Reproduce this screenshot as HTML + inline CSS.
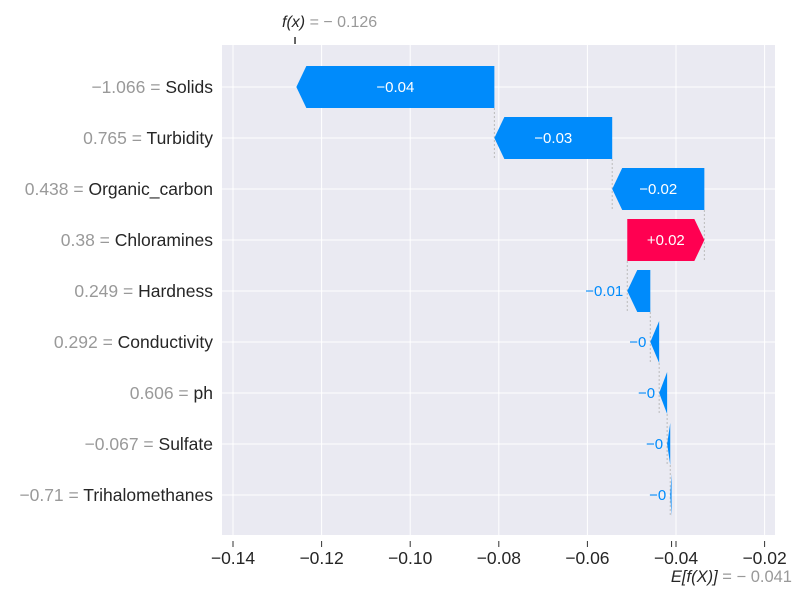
<!DOCTYPE html>
<html><head><meta charset="utf-8">
<style>
body{margin:0;background:#fff;}
svg{display:block;font-family:"Liberation Sans","DejaVu Sans",sans-serif;}
</style></head>
<body>
<svg id="chart" width="800" height="600">
  <rect x="222" y="45" width="553" height="490" fill="#eaeaf2"/>
  <g id="grid"></g>
  <g id="connectors"></g>
  <g id="bars"></g>
  <g id="ylabels"></g>
  <g id="xaxis"></g>
</svg>
<script>
const features = ["Solids","Turbidity","Organic_carbon","Chloramines","Hardness","Conductivity","ph","Sulfate","Trihalomethanes"];
const featureValues = ["\u22121.066","0.765","0.438","0.38","0.249","0.292","0.606","\u22120.067","\u22120.71"];
const shapValues = [-0.0447,-0.0266,-0.0208,0.0174,-0.0052,-0.002,-0.0018,-0.0007,-0.0003];
const barLabels = ["\u22120.04","\u22120.03","\u22120.02","+0.02","\u22120.01","\u22120","\u22120","\u22120","\u22120"];
const xTicks = [-0.14,-0.12,-0.10,-0.08,-0.06,-0.04,-0.02];
const xTickLabels = ["\u22120.14","\u22120.12","\u22120.10","\u22120.08","\u22120.06","\u22120.04","\u22120.02"];
const baseValue = -0.041;
const fxValue = -0.126;

const NS="http://www.w3.org/2000/svg";
const X = v => 676 + (v + 0.04) * 4430;
const rowY = i => 87 + i * 51;
const H = 42;
function mk(tag, attrs, parent){const e=document.createElementNS(NS,tag);for(const k in attrs)e.setAttribute(k,attrs[k]);parent.appendChild(e);return e;}
const grid=document.getElementById('grid'), bars=document.getElementById('bars'), conn=document.getElementById('connectors'), yl=document.getElementById('ylabels'), xa=document.getElementById('xaxis');

xTicks.forEach((t,i)=>{
  const gl=mk('line',{x1:X(t),x2:X(t),y1:45,y2:535,stroke:'#fff','stroke-width':1},grid);
  
  
  mk('line',{x1:X(t),x2:X(t),y1:541,y2:547,stroke:'#333','stroke-width':1},xa);
  const tl=mk('text',{x:X(t),y:564,'text-anchor':'middle','font-size':17.5,fill:'#262626'},xa);
  tl.textContent=xTickLabels[i];
  
  
});
features.forEach((f,i)=>{
  const gl=mk('line',{x1:222,x2:775,y1:rowY(i),y2:rowY(i),stroke:'#fff','stroke-width':1},grid);
  
  
});

let cur = baseValue;
const starts=[], ends=[];
for(let i=features.length-1;i>=0;i--){starts[i]=cur;cur+=shapValues[i];ends[i]=cur;}

features.forEach((f,i)=>{
  const y=rowY(i), v=shapValues[i];
  const a=X(starts[i]), b=X(ends[i]);
  const w=Math.abs(b-a);
  const head=Math.min(w, 10);
  const top=y-H/2, bot=y+H/2;
  let pts;
  if(v<0){ pts=[[a,top],[b+head,top],[b,y],[b+head,bot],[a,bot]]; }
  else { pts=[[a,top],[b-head,top],[b,y],[b-head,bot],[a,bot]]; }
  const color=v<0?'#008bfb':'#ff0051';
  const p=mk('polygon',{points:pts.map(q=>q.join(',')).join(' '),fill:color},bars);
  
  
  let t;
  if(w>60){
    t=mk('text',{x:(a+b)/2,y:y+5,'text-anchor':'middle','font-size':15,fill:'#fff'},bars);
  } else {
    const lx=Math.min(a,b)-4;
    t=mk('text',{x:lx,y:y+5,'text-anchor':'end','font-size':15,fill:color},bars);
  }
  t.textContent=barLabels[i];
  
  
  if(i>0){
    const c=mk('line',{x1:b,x2:b,y1:rowY(i-1)+H/2,y2:y+H/2,stroke:'#bbb','stroke-width':1,'stroke-dasharray':'2,2'},conn);
    
    
  }
  const lab=mk('text',{x:213,y:y+6,'text-anchor':'end','font-size':17.5},yl);
  const s1=mk('tspan',{fill:'#999'},lab); s1.textContent=featureValues[i]+' = ';
  const s2=mk('tspan',{fill:'#262626'},lab); s2.textContent=f;
  
  
});
mk('line',{x1:X(baseValue),x2:X(baseValue),y1:541,y2:547,stroke:'#333','stroke-width':1},xa);
const el=mk('text',{x:792,y:582,'text-anchor':'end','font-size':16.5,fill:'#999'},xa);
el.innerHTML='<tspan fill="#262626" font-style="italic">E[f(X)]</tspan> = \u2212 0.041';


mk('line',{x1:X(fxValue),x2:X(fxValue),y1:37,y2:44,stroke:'#333','stroke-width':1.5},xa);
const fl=mk('text',{x:X(fxValue)-13,y:27,'font-size':16,fill:'#999'},xa);
fl.innerHTML='<tspan fill="#262626" font-style="italic">f(x)</tspan> = \u2212 0.126';


</script>
</body></html>
